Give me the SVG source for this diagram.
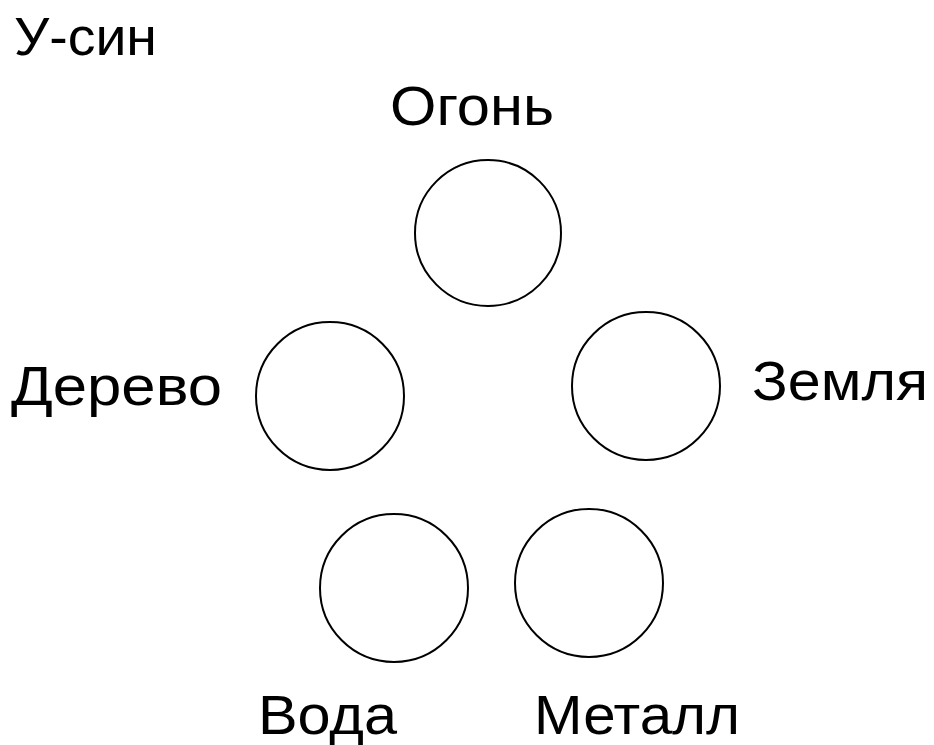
<svg xmlns="http://www.w3.org/2000/svg" width="934" height="745" viewBox="0 0 934 745">
<style>
.n{fill:#fff;stroke:#000;stroke-width:2}
.t{font-family:"Liberation Sans",Arial,sans-serif;font-size:55px;fill:#000}
</style>
<rect width="934" height="745" fill="#fff"/>
<text class="t" x="14" y="55" style="font-size:53px" textLength="143" lengthAdjust="spacingAndGlyphs">У-син</text>
<g id="connectors"></g>
<g id="fire"><circle class="n" cx="488" cy="233" r="73"/><text class="t" x="390" y="125" textLength="164" lengthAdjust="spacingAndGlyphs">Огонь</text></g>
<g id="wood"><circle class="n" cx="330" cy="396" r="74"/><text class="t" x="11" y="405" textLength="211" lengthAdjust="spacingAndGlyphs">Дерево</text></g>
<g id="earth"><circle class="n" cx="646" cy="386" r="74"/><text class="t" x="752" y="400" textLength="176" lengthAdjust="spacingAndGlyphs">Земля</text></g>
<g id="water"><circle class="n" cx="394" cy="588" r="74"/><text class="t" x="258" y="734" textLength="139" lengthAdjust="spacingAndGlyphs">Вода</text></g>
<g id="metal"><circle class="n" cx="589" cy="583" r="74"/><text class="t" x="534" y="734" textLength="206" lengthAdjust="spacingAndGlyphs">Металл</text></g>
</svg>
